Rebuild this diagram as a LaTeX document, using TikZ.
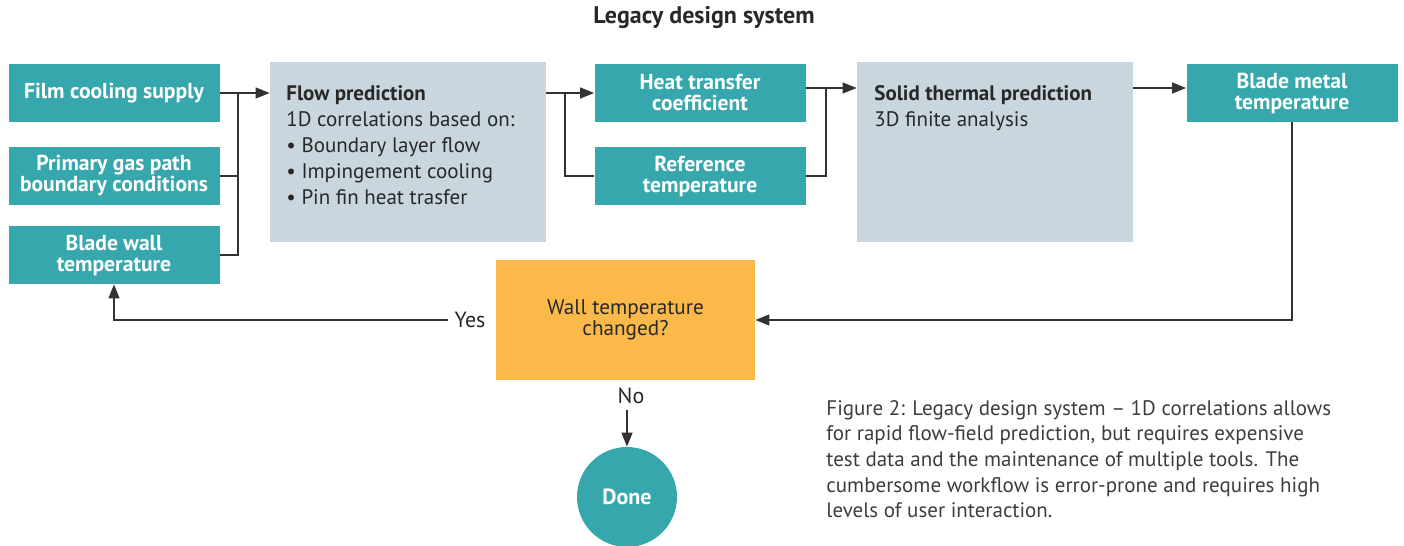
\documentclass[tikz,border=0pt]{standalone}
\usepackage{fontspec}
\setmainfont{PT Sans}
\usepackage{tikz}
\usetikzlibrary{arrows.meta, positioning, calc}
\definecolor{boxteal}{RGB}{54,168,173}
\definecolor{boxgrey}{RGB}{201,214,222}
\definecolor{boxorange}{RGB}{251,185,74}
\definecolor{txtdark}{RGB}{40,40,40}
\definecolor{linedark}{RGB}{50,50,50}

\begin{document}
\begin{tikzpicture}[x=0.5pt,y=-0.5pt,
  tealbox/.style={fill=boxteal,text=white,font=\bfseries\fontsize{10.8}{10.5}\selectfont,align=center,minimum width=105.5pt,minimum height=29pt,inner sep=0pt},
  greybox/.style={fill=boxgrey,minimum width=138pt,minimum height=90pt,inner sep=0pt},
  boxtext/.style={anchor=north west,align=left,text=txtdark,font=\fontsize{10.5}{13}\selectfont,inner sep=0pt},
  lbl/.style={text=txtdark,font=\fontsize{11}{12}\selectfont,inner sep=3pt},
  link/.style={draw=linedark,line width=0.6pt},
  arr/.style={link,-{Triangle[length=7pt,width=5.5pt]}}]
\useasboundingbox (0,0) rectangle (1404,546);

% Title
\node[font=\bfseries\fontsize{12}{13}\selectfont,text=txtdark] (title) at (704,18) {Legacy design system};

% Inputs
\node[tealbox] (film) at (114,93) {Film cooling supply};
\node[tealbox] (gas) at (114,176) {Primary gas path\\boundary conditions};
\node[tealbox] (wall) at (114,255) {Blade wall\\temperature};

% Flow prediction
\node[greybox] (flow) at (408,152) {};
\node[boxtext] (flowtxt) at (286,85) {\textbf{Flow prediction}\\1D correlations based on:\\\textbullet{} Boundary layer flow\\\textbullet{} Impingement cooling\\\textbullet{} Pin fin heat trasfer};

% Flow outputs
\node[tealbox] (htc) at (700,93) {Heat transfer\\coefficient};
\node[tealbox] (ref) at (700,176) {Reference\\temperature};

% Solid thermal prediction
\node[greybox] (solid) at (995,152) {};
\node[boxtext] (solidtxt) at (874,85) {\textbf{Solid thermal prediction}\\3D finite analysis};

% Result
\node[tealbox] (metal) at (1292,93) {Blade metal\\temperature};

% Decision and end
\node[fill=boxorange,text=txtdark,font=\fontsize{10.6}{10.5}\selectfont,align=center,minimum width=129.5pt,minimum height=60pt,inner sep=0pt] (check) at (625.5,320) {Wall temperature\\changed?};
\node[circle,fill=boxteal,text=white,font=\bfseries\fontsize{11}{12}\selectfont,minimum size=50pt,inner sep=0pt] (done) at (627,497) {Done};
\node[lbl] (yes) at (470,320) {Yes};
\node[lbl] (no) at (631,396) {No};

% Caption
\node[anchor=north west,align=left,text=txtdark!90,font=\fontsize{10.5}{12.8}\selectfont,inner sep=0pt] (caption) at (826,400) {Figure 2: Legacy design system -- 1D correlations allows\\for rapid flow-field prediction, but requires expensive\\test data and the maintenance of multiple tools. The\\cumbersome workflow is error-prone and requires high\\levels of user interaction.};

% Connectors into flow prediction
\coordinate (j1) at (238,93);
\draw[arr] (film.east) -- (flow.west |- film.east);
\draw[link] (gas.east) -- (gas.east -| j1);
\draw[link] (wall.east) -| (j1);

% Flow prediction to outputs
\coordinate (j2) at (565,93);
\draw[arr] (flow.east |- j2) -- (htc.west);
\draw[link] (j2) |- (ref.west);

% Outputs to solid thermal prediction
\coordinate (j3) at (826,88);
\draw[link] (htc.east |- j3) -- (j3);
\draw[link] (ref.east) -| (j3);
\draw[arr] (j3) -- (j3 -| solid.west);
\draw[arr] (solid.east |- j3) -- (metal.west |- j3);

% Feedback loop
\draw[arr] (metal.south) |- (check.east);
\draw[arr] (yes.west) -| (wall.south);
\draw[arr] (done.north |- no.south) -- (done.north);
\end{tikzpicture}
\end{document}
